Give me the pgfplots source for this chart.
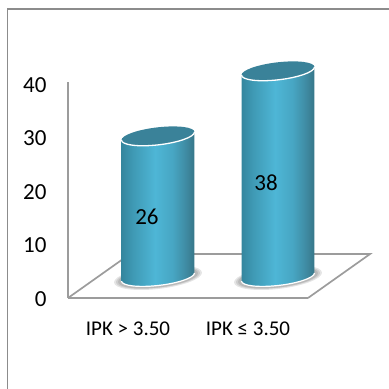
\documentclass[border=0pt]{standalone}
\usepackage{fontspec}
\setmainfont{Carlito}
\usepackage{pgfplots}
\pgfplotsset{compat=1.18}

\definecolor{framegray}{HTML}{8C8C8C}
\definecolor{floorgray}{HTML}{9C9C9C}
\definecolor{captop}{HTML}{3A8299}
\definecolor{bodyedgeL}{HTML}{35869E}
\definecolor{bodyA}{HTML}{3F9AB5}
\definecolor{bodyB}{HTML}{4EB6D6}
\definecolor{bodyC}{HTML}{47A6C3}
\definecolor{bodyD}{HTML}{3F8BA3}
\definecolor{bodyedgeR}{HTML}{377689}

% Lighting across a cylinder body, dark rims and a bright middle
\pgfdeclarehorizontalshading{cylbody}{100bp}{
  color(0bp)=(bodyedgeL);
  color(25bp)=(bodyedgeL);
  color(33bp)=(bodyA);
  color(48bp)=(bodyB);
  color(60bp)=(bodyC);
  color(69bp)=(bodyD);
  color(75bp)=(bodyedgeR);
  color(100bp)=(bodyedgeR)}

% Upper cap: a sheared ellipse with a white rim along its near edge
\pgfdeclareplotmark{cylcap}{%
  \pgftransformcm{1}{0.11}{0}{1}{\pgfpointorigin}%
  \pgfsetfillcolor{captop}%
  \pgfpathellipse{\pgfpointorigin}{\pgfqpoint{36.5pt}{0pt}}{\pgfqpoint{0pt}{8.8pt}}%
  \pgfusepathqfill
  \pgfsetstrokecolor{white}\pgfsetlinewidth{1.3pt}%
  \pgfpathmoveto{\pgfqpoint{-36.5pt}{0pt}}%
  \pgfpatharc{180}{360}{36.5pt and 8.8pt}%
  \pgfusepathqstroke}

% Soft contact shadow on the floor
\pgfdeclareplotmark{cylshadow}{%
  \pgftransformcm{1}{0.11}{0}{1}{\pgfpointorigin}%
  \pgfsetfillcolor{black}%
  \pgfsetfillopacity{0.10}%
  \pgfpathellipse{\pgfqpoint{0pt}{-0.5pt}}{\pgfqpoint{44pt}{0pt}}{\pgfqpoint{0pt}{11.5pt}}%
  \pgfusepathqfill
  \pgfpathellipse{\pgfqpoint{0pt}{-0.5pt}}{\pgfqpoint{42pt}{0pt}}{\pgfqpoint{0pt}{10.5pt}}%
  \pgfusepathqfill
  \pgfpathellipse{\pgfqpoint{0pt}{-0.5pt}}{\pgfqpoint{40pt}{0pt}}{\pgfqpoint{0pt}{10pt}}%
  \pgfusepathqfill}

% White rim under the foot of a cylinder
\pgfdeclareplotmark{cylfoot}{%
  \pgftransformcm{1}{0.11}{0}{1}{\pgfpointorigin}%
  \pgfsetstrokecolor{white}\pgfsetlinewidth{1.2pt}%
  \pgfpathmoveto{\pgfqpoint{-36.5pt}{0pt}}%
  \pgfpatharc{180}{360}{36.5pt and 8.5pt}%
  \pgfusepathqstroke}

\pgfplotsset{cylinder frame/.style={
  at={(98pt,91pt)},anchor=south west,
  scale only axis,width=240pt,height=238pt,
  xmin=-0.5,xmax=1.5,ymin=-3.875,ymax=40.04,
  hide axis,clip=false}}

\begin{document}
\begin{tikzpicture}
\path[use as bounding box] (0pt,0pt) rectangle (389pt,389pt);

% Outer frame, cut off by the right and bottom edges
\draw[framegray,line width=1.8pt] (389pt,380pt) -- (7.5pt,380pt) -- (7.5pt,0pt);

% Value axis, wall and floor
\begin{axis}[
  at={(68pt,91pt)},anchor=south west,
  scale only axis,width=240pt,height=216pt,
  xmin=-0.5,xmax=1.5,ymin=0,ymax=40.37,
  axis x line*=bottom,axis y line*=left,
  axis line style={floorgray,line width=1.7pt,-},
  xtick={0,1},xticklabels={IPK > 3.50,IPK ≤ 3.50},
  ytick={0,10,20,30,40},
  tick style={draw=none},
  /pgf/number format/assume math mode=true,
  xticklabel style={font=\fontsize{21}{23}\selectfont,yshift=-20pt},
  yticklabel style={font=\fontsize{23}{25}\selectfont,xshift=-18pt,yshift=-1pt},
  clip=false]
\addplot[floorgray,line width=1.7pt,mark=none]
  coordinates {(1.5,0) (2.017,8.22) (0.017,8.22) (-0.5,0)};
\end{axis}

% Contact shadows on the floor
\begin{axis}[cylinder frame]
\addplot[only marks,mark=cylshadow] coordinates {(0,0) (1,0)};
\end{axis}

% Cylinders, measured from the floor
\begin{axis}[cylinder frame]
\addplot[draw=none,shading=cylbody] coordinates {
  (-0.304,25.26) (0.304,26.74)
  (0.304,0.74) (0.281,0.083) (0.215,-0.587) (0.116,-1.168) (0,-1.57)
  (-0.116,-1.734) (-0.215,-1.633) (-0.281,-1.285) (-0.304,-0.74)} -- cycle;
\addplot[draw=none,shading=cylbody] coordinates {
  (0.696,37.26) (1.304,38.74)
  (1.304,0.74) (1.281,0.083) (1.215,-0.587) (1.116,-1.168) (1,-1.57)
  (0.884,-1.734) (0.785,-1.633) (0.719,-1.285) (0.696,-0.74)} -- cycle;
\addplot[only marks,mark=cylfoot] coordinates {(0,0) (1,0)};
\addplot[only marks,mark=cylcap] coordinates {(0,26) (1,38)};
\addplot[only marks,mark=none,point meta=explicit symbolic,
  nodes near coords,
  every node near coord/.append style={anchor=center,text=black,
    font=\fontsize{23}{25}\selectfont}]
  coordinates {(-0.092,11.07)[26] (0.9,17.34)[38]};
\end{axis}
\end{tikzpicture}
\end{document}
